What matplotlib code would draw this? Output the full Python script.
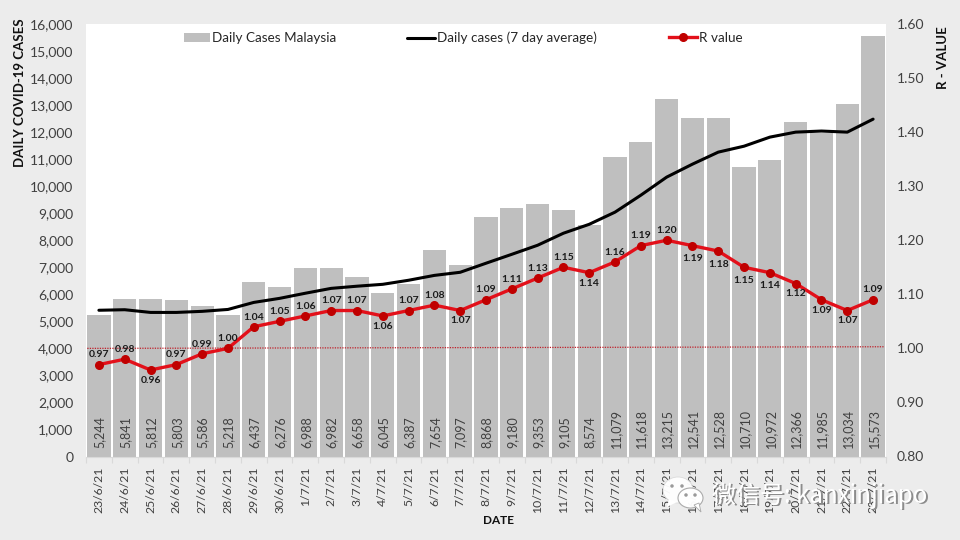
import matplotlib
matplotlib.use("Agg")
import matplotlib.pyplot as plt
from matplotlib.patches import Ellipse, Polygon
from matplotlib.ticker import FuncFormatter, MultipleLocator

plt.rcParams['font.family'] = ['Lato', 'DejaVu Sans']

dates = ['23/6/21', '24/6/21', '25/6/21', '26/6/21', '27/6/21', '28/6/21', '29/6/21', '30/6/21',
         '1/7/21', '2/7/21', '3/7/21', '4/7/21', '5/7/21', '6/7/21', '7/7/21', '8/7/21', '9/7/21',
         '10/7/21', '11/7/21', '12/7/21', '13/7/21', '14/7/21', '15/7/21', '16/7/21', '17/7/21',
         '18/7/21', '19/7/21', '20/7/21', '21/7/21', '22/7/21', '23/7/21']
daily_cases = [5244, 5841, 5812, 5803, 5586, 5218, 6437, 6276, 6988, 6982, 6658, 6045, 6387, 7654,
               7097, 8868, 9180, 9353, 9105, 8574, 11079, 11618, 13215, 12541, 12528, 10710, 10972,
               12366, 11985, 13034, 15573]
avg_7day = [5410, 5430, 5330, 5330, 5370, 5440, 5700, 5850, 6040, 6220, 6300, 6370, 6520, 6700,
            6815, 7150, 7480, 7815, 8260, 8590, 9040, 9667, 10335, 10815, 11260, 11480, 11815,
            12000, 12040, 12000, 12480]
r_value = [0.97, 0.98, 0.96, 0.97, 0.99, 1.00, 1.04, 1.05, 1.06, 1.07, 1.07, 1.06, 1.07, 1.08,
           1.07, 1.09, 1.11, 1.13, 1.15, 1.14, 1.16, 1.19, 1.20, 1.19, 1.18, 1.15, 1.14, 1.12,
           1.09, 1.07, 1.09]
r_below = [2, 11, 14, 19, 23, 24, 25, 26, 27, 28, 29]
r_far_below = [23, 24, 25, 26]
threshold = [1.00, 1.003]

BG = '#ececec'
GREY = '#bfbfbf'
TXT = '#404040'
xs = list(range(len(dates)))

fig = plt.figure(figsize=(9.6, 5.4), dpi=100, facecolor=BG)
ax = fig.add_axes([86 / 960, 1 - 456.5 / 540, 800 / 960, 432.5 / 540], facecolor='white')
ax.bar(xs, daily_cases, width=0.9, color=GREY, label='Daily Cases Malaysia', zorder=2)
ax.set_xlim(-0.5, len(dates) - 0.5)
ax.set_ylim(0, 16000)
ax.yaxis.set_major_locator(MultipleLocator(1000))
ax.yaxis.set_major_formatter(FuncFormatter(lambda v, _: f'{int(v):,}'))
ax.set_xticks(xs, dates, rotation=90)
ax.set_xticks([i - 0.5 for i in range(len(dates) + 1)], minor=True)
ax.tick_params(axis='x', which='major', length=0, pad=7, labelsize=8.8, colors=TXT)
ax.tick_params(axis='x', which='minor', length=4, color='#d9d9d9', width=0.8)
ax.tick_params(axis='y', length=0, pad=9, labelsize=10, colors=TXT)
for s in ax.spines.values():
    s.set_visible(False)
ax.spines['bottom'].set_visible(True)
ax.spines['bottom'].set_color('#d9d9d9')

for x, v in zip(xs, daily_cases):
    ax.text(x + 0.03, 300, f'{v:,}', rotation=90, ha='center', va='bottom', fontsize=9,
            color=TXT, zorder=6)

ax.plot(xs, avg_7day, color='black', lw=2.2, label='Daily cases (7 day average)', zorder=3,
        solid_capstyle='round')

ax2 = ax.twinx()
ax2.set_ylim(0.8, 1.6)
ax2.yaxis.set_major_locator(MultipleLocator(0.1))
ax2.yaxis.set_major_formatter(FuncFormatter(lambda v, _: f'{v:.2f}'))
ax2.tick_params(axis='y', length=0, pad=8, labelsize=10, colors=TXT)
for s in ax2.spines.values():
    s.set_visible(False)
ax2.plot([-0.45, len(dates) - 0.55], threshold, color='#c0202a', lw=0.9, ls=(0, (1, 1)), zorder=3)
ax2.plot(xs, r_value, color='#e3101a', lw=2.4, marker='o', ms=5.5, mfc='#c00000', mec='#c00000',
         label='R value', zorder=4)
for i, (x, r) in enumerate(zip(xs, r_value)):
    dy = 7
    if i in r_below:
        dy = -9.5 if i in r_far_below else -7.5
    ax2.annotate(f'{r:.2f}', (x, r), xytext=(0, dy), textcoords='offset points',
                 ha='center', va='center', fontsize=7.5, fontweight='bold', color='#1a1a1a', zorder=5)

h1, l1 = ax.get_legend_handles_labels()
h2, l2 = ax2.get_legend_handles_labels()
# legend entries placed to match the header row
common = dict(loc='center left', frameon=False, fontsize=9.7, labelcolor='#262626', borderpad=0, borderaxespad=0)
fig.legend([h1[1]], [l1[1]], bbox_to_anchor=(184 / 960, 1 - 38 / 540), handlelength=1.9, handletextpad=0.15, **common)
fig.legend([h1[0]], [l1[0]], bbox_to_anchor=(407 / 960, 1 - 38 / 540), handlelength=2.05, handletextpad=0.15, **common)
fig.legend([h2[0]], [l2[0]], bbox_to_anchor=(669 / 960, 1 - 38 / 540), handlelength=2.05, handletextpad=0.15, **common)

fig.text(20.5 / 960, 1 - 92.5 / 540, 'DAILY COVID-19 CASES', rotation=90, ha='center', va='center',
         fontsize=9.5, fontweight='bold', color='#111111')
fig.text(943 / 960, 1 - 57.5 / 540, 'R - VALUE', rotation=90, ha='center', va='center',
         fontsize=9.5, fontweight='bold', color='#111111')
fig.text(498 / 960, 1 - 521 / 540, 'DATE', ha='center', va='center', fontsize=8.5, fontweight='bold',
         color='#111111')

# watermark
ov = fig.add_axes([0, 0, 1, 1], facecolor='none')
ov.set_xlim(0, 960)
ov.set_ylim(540, 0)
ov.axis('off')
ov.add_patch(Ellipse((678, 490), 30, 26, fc='white', ec='#d8d8d8', lw=0.6, alpha=0.95))
ov.add_patch(Polygon([[669, 499], [667, 507], [677, 502]], fc='white', ec='none'))
ov.add_patch(Ellipse((690.5, 498), 25, 20, fc='white', ec='#a8a8a8', lw=0.8, alpha=0.97))
ov.add_patch(Polygon([[694, 505], [701, 512], [699, 503]], fc='white', ec='#a8a8a8', lw=0.6))
for px, py in [(672, 486), (682, 486), (686, 495), (695, 495)]:
    ov.add_patch(Ellipse((px, py), 3.5, 3.5, fc='#9a9a9a', ec='none'))
wm = dict(ha='left', va='center', fontsize=17.3, family=['Noto Sans CJK SC', 'DejaVu Sans'])
ov.text(713.6, 497.1, '微信号: kanxinjiapo', color='#8c8c8c', **wm)
ov.text(712, 495.5, '微信号: kanxinjiapo', color='white', **wm)

fig.savefig('out.png', dpi=100, facecolor=BG)
